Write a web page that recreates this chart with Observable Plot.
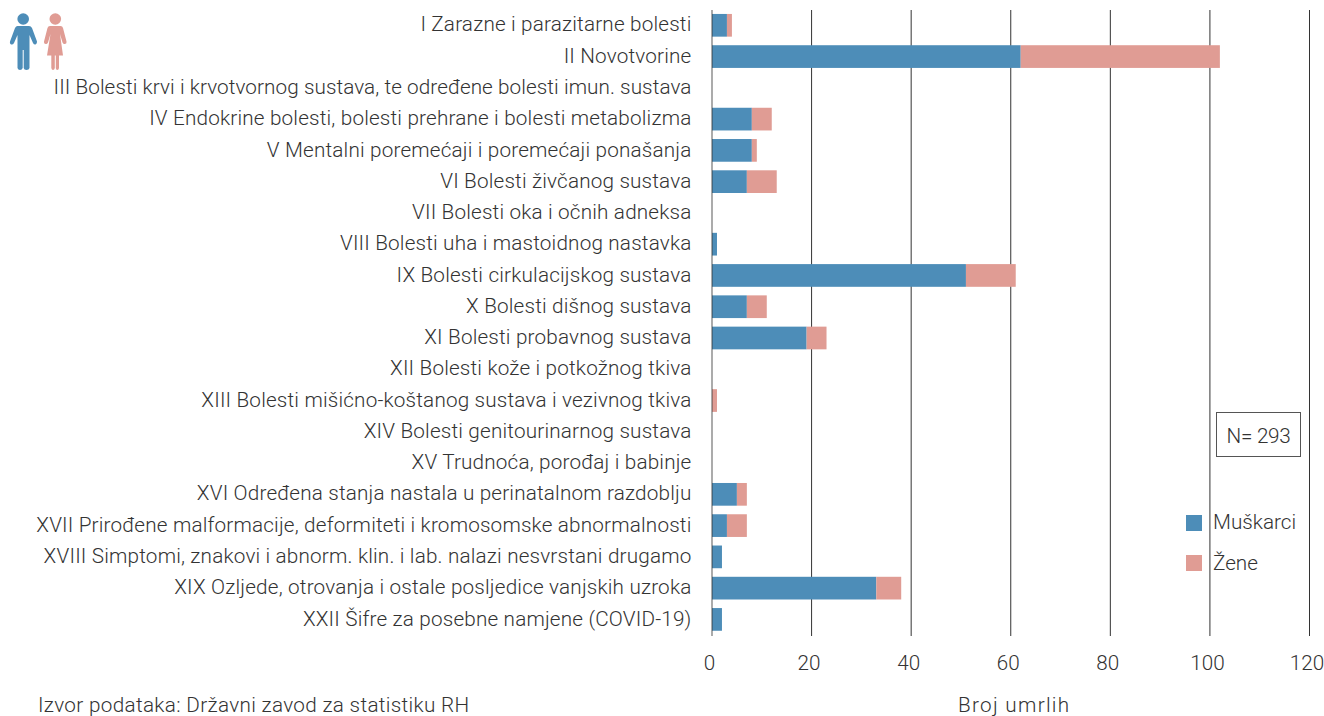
<!DOCTYPE html>
<html><head><meta charset="utf-8">
<script src="https://cdn.jsdelivr.net/npm/d3@7"></script>
<script src="https://cdn.jsdelivr.net/npm/@observablehq/plot@0.6"></script>
<style>
html,body{margin:0;padding:0;background:#fff;overflow:hidden}
#wrap{position:relative;width:1324px;height:716px;overflow:hidden;font-family:Roboto,sans-serif;font-weight:300;color:#333}
#chart svg{display:block;font-family:Roboto,sans-serif;font-weight:300}
.abs{position:absolute;white-space:nowrap}
.txt{font-size:20.7px;line-height:24px}
</style></head><body>
<div id="wrap"><div id="chart"></div></div>
<script>
const categories = [
"I Zarazne i parazitarne bolesti",
"II Novotvorine",
"III Bolesti krvi i krvotvornog sustava, te određene bolesti imun. sustava",
"IV Endokrine bolesti, bolesti prehrane i bolesti metabolizma",
"V Mentalni poremećaji i poremećaji ponašanja",
"VI Bolesti živčanog sustava",
"VII Bolesti oka i očnih adneksa",
"VIII Bolesti uha i mastoidnog nastavka",
"IX Bolesti cirkulacijskog sustava",
"X Bolesti dišnog sustava",
"XI Bolesti probavnog sustava",
"XII Bolesti kože i potkožnog tkiva",
"XIII Bolesti mišićno-koštanog sustava i vezivnog tkiva",
"XIV Bolesti genitourinarnog sustava",
"XV Trudnoća, porođaj i babinje",
"XVI Određena stanja nastala u perinatalnom razdoblju",
"XVII Prirođene malformacije, deformiteti i kromosomske abnormalnosti",
"XVIII Simptomi, znakovi i abnorm. klin. i lab. nalazi nesvrstani drugamo",
"XIX Ozljede, otrovanja i ostale posljedice vanjskih uzroka",
"XXII Šifre za posebne namjene (COVID-19)"
];
const men   = [3,62,0,8,8,7,0,1,51,7,19,0,0,0,0,5,3,2,33,2];
const women = [1,40,0,4,1,6,0,0,10,4,4,0,1,0,0,2,4,0,5,0];
const seriesNames = ["Muškarci","Žene"];
const seriesColors = ["#4d8db8","#e09c94"];
const xTicks = [0,20,40,60,80,100,120];
const xLabel = "Broj umrlih";
const source = "Izvor podataka: Državni zavod za statistiku RH";
const nLabel = "N= 293";

const rows = categories.flatMap((c,i)=>[
  {cat:c,sex:seriesNames[0],value:men[i]},
  {cat:c,sex:seriesNames[1],value:women[i]}
]);

const plot = Plot.plot({
  width:1324,height:716,
  marginLeft:712,marginRight:14.5,marginTop:10,marginBottom:80,
  x:{domain:[0,120],ticks:xTicks},
  y:{domain:categories,paddingInner:0.274,paddingOuter:0.147,align:0.43,round:false},
  color:{domain:seriesNames,range:seriesColors},
  marks:[
    Plot.ruleX(xTicks.slice(1),{stroke:"#333",strokeWidth:1,dx:-0.5}),
    Plot.barX(rows,{x:"value",y:"cat",fill:"sex"}),
    Plot.ruleX([0],{stroke:"#333",strokeOpacity:0.55,strokeWidth:1.5,dx:-0.5}),
    Plot.axisY({tickSize:0,tickPadding:21,fontSize:20.7,label:null,lineWidth:70,textOverflow:null,dy:-1}),
    Plot.axisX({ticks:xTicks,tickSize:0,tickPadding:19,fontSize:20.7,label:null,dx:-3})
  ]
});
document.getElementById("chart").appendChild(plot);
plot.querySelectorAll("text").forEach(t=>{
  t.style.fill="#333";
  if(/[a-z]/.test(t.textContent)) t.style.letterSpacing = t.textContent.startsWith("III ") ? ".08px" : ".18px";
});

const wrap=document.getElementById("wrap");
function add(html,css,cls){const d=document.createElement("div");d.className="abs "+(cls||"");d.style.cssText=css;d.innerHTML=html;wrap.appendChild(d);return d;}
add(source,"left:38px;top:693px;letter-spacing:.33px","txt");
add(xLabel,"left:958px;top:693px;letter-spacing:1.3px","txt");
add(nLabel,"left:1216px;top:412px;width:83px;height:32px;padding-top:11px;border:1px solid #555;text-align:center;letter-spacing:-.3px","txt");
seriesNames.forEach((s,i)=>{
  add("",`left:1186px;top:${515+40*i}px;width:16px;height:16px;background:${seriesColors[i]}`);
  add(s,`left:1213px;top:${510+41*i}px`,"txt");
});
add(`<svg width="80" height="80" viewBox="0 0 80 80">
<g fill="${seriesColors[0]}">
<circle cx="23.2" cy="19" r="5.8"/>
<path d="M17.5 26 H29 Q31 26 32 28 L37 41.5 Q37.3 43.5 35.5 44.5 Q34 44.8 33 43 L29.5 35 V68 Q29 70 26.5 70 Q24 70 23.7 68 V50 H22.7 V68 Q22 70 20 70 Q18 70 17.5 68 V35 L14 43 Q13 45 11 44.5 Q9.3 43.5 10 41.5 L15 28 Q16 26 17.5 26Z"/>
</g>
<g fill="${seriesColors[1]}">
<circle cx="55.3" cy="19" r="5.8"/>
<path d="M50 26 H60.5 Q62.5 26 63 28 L66.5 41.5 Q67 43.5 65 44 Q63.5 44.5 62.5 42.5 L60 34 L63 55.5 H59 V68 Q58.7 70 57.3 70 Q56 70 55.8 68 V55.5 H54.8 V68 Q54.5 70 53 70 Q51.7 70 51.3 68 V55.5 H47 L50.5 34 L48 42.5 Q47 44.5 45.5 44 Q43.5 43.5 44 41.5 L47.5 28 Q48 26 50 26Z"/>
</g></svg>`,"left:0;top:0;width:80px;height:80px");
</script></body></html>
